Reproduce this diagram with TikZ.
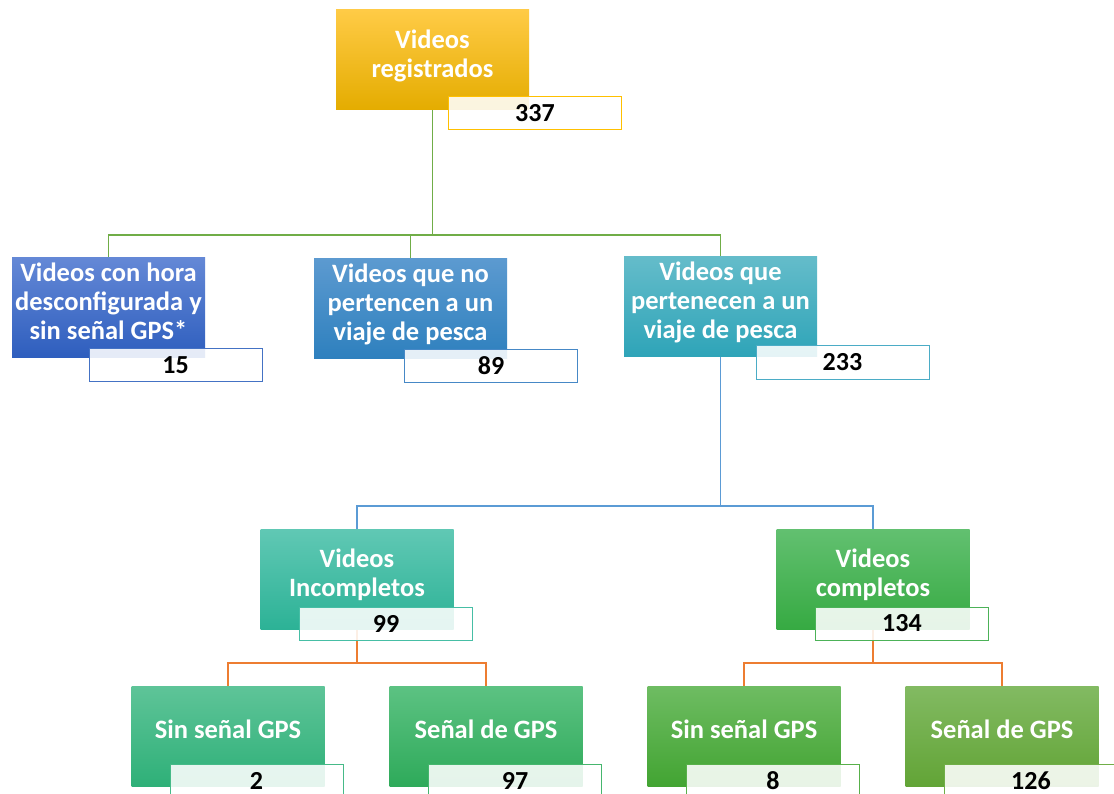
\documentclass[tikz,border=0pt]{standalone}
\usepackage{fontspec}
\setmainfont{Carlito}
\usetikzlibrary{backgrounds}
\definecolor{cgreen}{RGB}{112,173,71}
\definecolor{cblue}{RGB}{91,155,213}
\definecolor{corange}{RGB}{237,125,49}
\newcommand\bt[2][3pt]{\raisebox{#1}[\height][\depth]{\begin{tabular}{@{}c@{}}#2\end{tabular}}}
\tikzset{
  x=1pt,y=-1pt,
  box/.style={rectangle,minimum width=193pt,minimum height=100pt,inner sep=0pt,
    text=white,font=\fontsize{26.5}{29}\selectfont\bfseries},
  numbox/.style={rectangle,minimum width=173pt,minimum height=33pt,inner sep=0pt,
    fill=white,fill opacity=0.88,text opacity=1,line width=1pt,
    font=\fontsize{26}{29}\selectfont\bfseries,text=black},
  conn/.style={line width=1.4pt},
}
\begin{document}
\begin{tikzpicture}
\clip (0,0) rectangle (1114,794);
% level 1
\node[box,top color={rgb,255:red,255;green,203;blue,70},middle color={rgb,255:red,255;green,192;blue,0},bottom color={rgb,255:red,228;green,172;blue,0}] (top) at (432.5,60) {\bt{Videos\\registrados}};
\node[numbox,draw={rgb,255:red,255;green,192;blue,0}] (ntop) at (535,113.5) {337};
% level 2
\node[box,top color={rgb,255:red,100;green,136;blue,214},bottom color={rgb,255:red,46;green,94;blue,190}] (A) at (108.5,307.5) {\bt{Videos con hora\\desconfigurada y\\sin señal GPS*}};
\node[numbox,draw={rgb,255:red,68;green,114;blue,196}] (nA) at (175.5,365) {15};
\node[box,top color={rgb,255:red,92;green,154;blue,208},bottom color={rgb,255:red,46;green,128;blue,190}] (B) at (410.5,308.5) {\bt{Videos que no\\pertencen a un\\viaje de pesca}};
\node[numbox,draw={rgb,255:red,70;green,136;blue,198}] (nB) at (491,366) {89};
\node[box,top color={rgb,255:red,100;green,188;blue,202},bottom color={rgb,255:red,46;green,164;blue,184}] (C) at (720.5,307) {\bt{Videos que\\pertenecen a un\\viaje de pesca}};
\node[numbox,draw={rgb,255:red,75;green,172;blue,198}] (nC) at (842.5,362.5) {233};
% level 3
\node[box,top color={rgb,255:red,96;green,200;blue,180},bottom color={rgb,255:red,44;green,178;blue,150}] (D) at (357,579.5) {\bt{Videos\\Incompletos}};
\node[numbox,draw={rgb,255:red,70;green,190;blue,165}] (nD) at (386,623.5) {99};
\node[box,top color={rgb,255:red,98;green,192;blue,112},bottom color={rgb,255:red,54;green,170;blue,66}] (E) at (873,579.5) {\bt{Videos\\completos}};
\node[numbox,draw={rgb,255:red,76;green,178;blue,88}] (nE) at (902,623.5) {134};
% level 4
\node[box,top color={rgb,255:red,94;green,196;blue,152},bottom color={rgb,255:red,46;green,176;blue,120}] (F) at (228,736.5) {\bt[4pt]{Sin señal GPS}};
\node[numbox,draw={rgb,255:red,70;green,186;blue,136}] (nF) at (256.5,780.5) {2};
\node[box,top color={rgb,255:red,92;green,194;blue,130},bottom color={rgb,255:red,46;green,170;blue,90}] (G) at (486,736.5) {\bt[4pt]{Señal de GPS}};
\node[numbox,draw={rgb,255:red,70;green,182;blue,110}] (nG) at (515,780.5) {97};
\node[box,top color={rgb,255:red,110;green,188;blue,98},bottom color={rgb,255:red,66;green,164;blue,50}] (H) at (744,736.5) {\bt[4pt]{Sin señal GPS}};
\node[numbox,draw={rgb,255:red,88;green,176;blue,74}] (nH) at (773,780.5) {8};
\node[box,top color={rgb,255:red,130;green,186;blue,98},bottom color={rgb,255:red,98;green,164;blue,54}] (I) at (1002,736.5) {\bt[4pt]{Señal de GPS}};
\node[numbox,draw={rgb,255:red,112;green,174;blue,72}] (nI) at (1031,780.5) {126};
% connectors
\coordinate (bus1) at (0,235);
\coordinate (bus2) at (0,506);
\coordinate (bus3) at (0,663);
\begin{scope}[on background layer]
\fill[white] (0,0) rectangle (1114,794);
\draw[conn,cgreen] (top.south) -- (top.south |- bus1) -| (A.north);
\draw[conn,cgreen] (top.south |- bus1) -| (B.north);
\draw[conn,cgreen] (top.south |- bus1) -| (C.north);
\draw[conn,cblue] (C.south) -- (C.south |- bus2) -| (D.north);
\draw[conn,cblue] (C.south |- bus2) -| (E.north);
\draw[conn,corange] (D.south) -- (D.south |- bus3) -| (F.north);
\draw[conn,corange] (D.south |- bus3) -| (G.north);
\draw[conn,corange] (E.south) -- (E.south |- bus3) -| (H.north);
\draw[conn,corange] (E.south |- bus3) -| (I.north);
\end{scope}
\end{tikzpicture}
\end{document}
